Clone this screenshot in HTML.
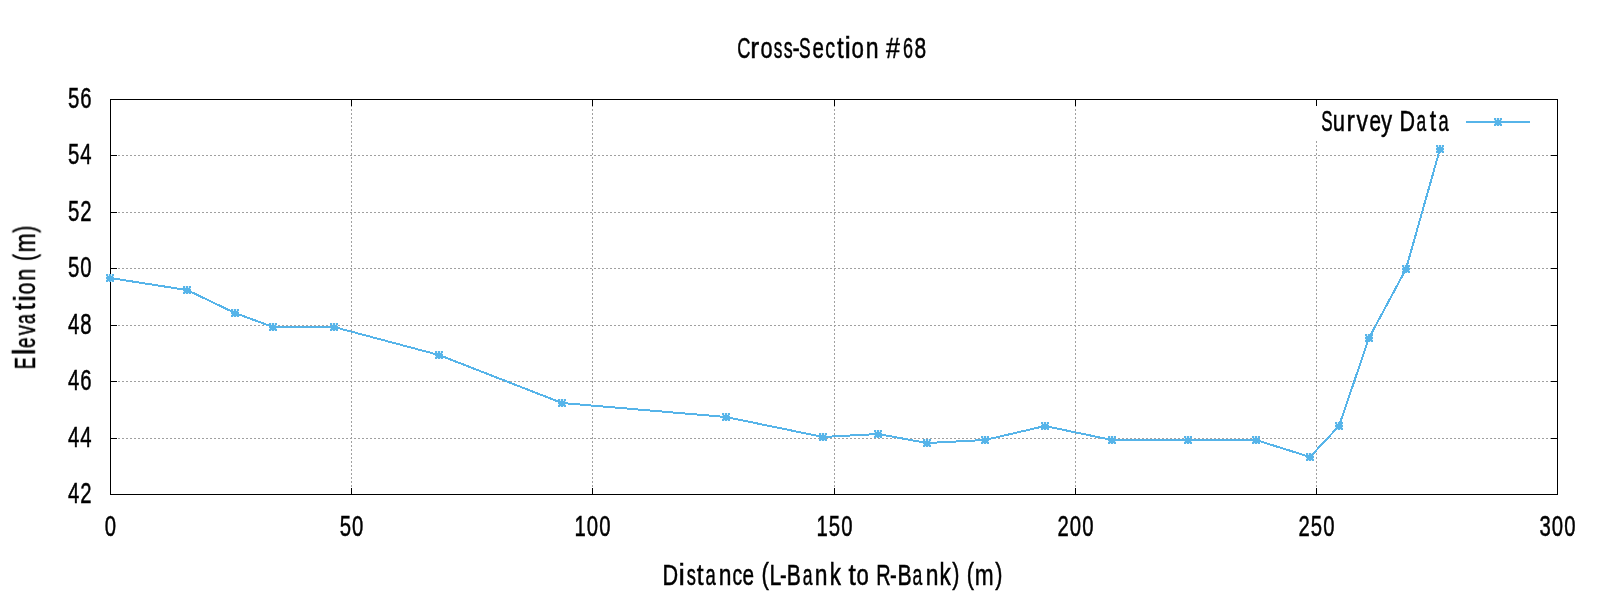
<!DOCTYPE html><html><head><meta charset="utf-8"><style>html,body{margin:0;padding:0;background:#fff;width:1600px;height:600px;overflow:hidden}svg{display:block}.t{will-change:transform}text{font-family:"Liberation Sans",sans-serif;fill:#000;stroke:#000;stroke-width:0.5px;will-change:transform}</style></head><body>
<svg width="1600" height="600" viewBox="0 0 1600 600">
<rect width="1600" height="600" fill="#fff"/>
<path d="M110.0 155.5H1558.0M110.0 212.5H1558.0M110.0 268.5H1558.0M110.0 325.5H1558.0M110.0 381.5H1558.0M110.0 438.5H1558.0" stroke="#a0a0a0" stroke-width="1" stroke-dasharray="2 2" fill="none"/>
<path d="M351.5 495.0V99.0M592.5 495.0V99.0M834.5 495.0V99.0M1075.5 495.0V99.0M1316.5 495.0V99.0" stroke="#a0a0a0" stroke-width="1" stroke-dasharray="2 2" fill="none"/>
<rect x="1305" y="100" width="250" height="41" fill="#fff"/>
<path d="M110.0 155.5h7M1558.0 155.5h-7M110.0 212.5h7M1558.0 212.5h-7M110.0 268.5h7M1558.0 268.5h-7M110.0 325.5h7M1558.0 325.5h-7M110.0 381.5h7M1558.0 381.5h-7M110.0 438.5h7M1558.0 438.5h-7M351.5 99.0v7M351.5 495.0v-7M592.5 99.0v7M592.5 495.0v-7M834.5 99.0v7M834.5 495.0v-7M1075.5 99.0v7M1075.5 495.0v-7M1316.5 99.0v7M1316.5 495.0v-7" stroke="#000" stroke-width="1" fill="none"/>
<rect x="110.5" y="99.5" width="1447.0" height="395.0" stroke="#000" stroke-width="1" fill="none"/>
<path d="M110 278 L187 290 L235 313 L273 327 L334 327 L439 355 L562 403 L726 417 L823 437 L878 434 L927 443 L985 440 L1045 426 L1112 440 L1188 440 L1256 440 L1310 457 L1339 426 L1369 338 L1406 269 L1440 149" stroke="#56b4e9" stroke-width="2" fill="none" stroke-linejoin="miter" shape-rendering="crispEdges"/>
<path d="M106 274h8v8h-8zM183 286h8v8h-8zM231 309h8v8h-8zM269 323h8v8h-8zM330 323h8v8h-8zM435 351h8v8h-8zM558 399h8v8h-8zM722 413h8v8h-8zM819 433h8v8h-8zM874 430h8v8h-8zM923 439h8v8h-8zM981 436h8v8h-8zM1041 422h8v8h-8zM1108 436h8v8h-8zM1184 436h8v8h-8zM1252 436h8v8h-8zM1306 453h8v8h-8zM1335 422h8v8h-8zM1365 334h8v8h-8zM1402 265h8v8h-8zM1436 145h8v8h-8zM1494 118h8v8h-8z" fill="#56b4e9" fill-opacity="0.22"/>
<path d="M106 274h2v2h1v-2h2v2h1v-2h2v2h-1v1h1v2h-1v1h1v2h-2v-1h-1v1h-2v-1h-1v1h-2v-2h1v-1h-1v-2h1v-1h-1zM183 286h2v2h1v-2h2v2h1v-2h2v2h-1v1h1v2h-1v1h1v2h-2v-1h-1v1h-2v-1h-1v1h-2v-2h1v-1h-1v-2h1v-1h-1zM231 309h2v2h1v-2h2v2h1v-2h2v2h-1v1h1v2h-1v1h1v2h-2v-1h-1v1h-2v-1h-1v1h-2v-2h1v-1h-1v-2h1v-1h-1zM269 323h2v2h1v-2h2v2h1v-2h2v2h-1v1h1v2h-1v1h1v2h-2v-1h-1v1h-2v-1h-1v1h-2v-2h1v-1h-1v-2h1v-1h-1zM330 323h2v2h1v-2h2v2h1v-2h2v2h-1v1h1v2h-1v1h1v2h-2v-1h-1v1h-2v-1h-1v1h-2v-2h1v-1h-1v-2h1v-1h-1zM435 351h2v2h1v-2h2v2h1v-2h2v2h-1v1h1v2h-1v1h1v2h-2v-1h-1v1h-2v-1h-1v1h-2v-2h1v-1h-1v-2h1v-1h-1zM558 399h2v2h1v-2h2v2h1v-2h2v2h-1v1h1v2h-1v1h1v2h-2v-1h-1v1h-2v-1h-1v1h-2v-2h1v-1h-1v-2h1v-1h-1zM722 413h2v2h1v-2h2v2h1v-2h2v2h-1v1h1v2h-1v1h1v2h-2v-1h-1v1h-2v-1h-1v1h-2v-2h1v-1h-1v-2h1v-1h-1zM819 433h2v2h1v-2h2v2h1v-2h2v2h-1v1h1v2h-1v1h1v2h-2v-1h-1v1h-2v-1h-1v1h-2v-2h1v-1h-1v-2h1v-1h-1zM874 430h2v2h1v-2h2v2h1v-2h2v2h-1v1h1v2h-1v1h1v2h-2v-1h-1v1h-2v-1h-1v1h-2v-2h1v-1h-1v-2h1v-1h-1zM923 439h2v2h1v-2h2v2h1v-2h2v2h-1v1h1v2h-1v1h1v2h-2v-1h-1v1h-2v-1h-1v1h-2v-2h1v-1h-1v-2h1v-1h-1zM981 436h2v2h1v-2h2v2h1v-2h2v2h-1v1h1v2h-1v1h1v2h-2v-1h-1v1h-2v-1h-1v1h-2v-2h1v-1h-1v-2h1v-1h-1zM1041 422h2v2h1v-2h2v2h1v-2h2v2h-1v1h1v2h-1v1h1v2h-2v-1h-1v1h-2v-1h-1v1h-2v-2h1v-1h-1v-2h1v-1h-1zM1108 436h2v2h1v-2h2v2h1v-2h2v2h-1v1h1v2h-1v1h1v2h-2v-1h-1v1h-2v-1h-1v1h-2v-2h1v-1h-1v-2h1v-1h-1zM1184 436h2v2h1v-2h2v2h1v-2h2v2h-1v1h1v2h-1v1h1v2h-2v-1h-1v1h-2v-1h-1v1h-2v-2h1v-1h-1v-2h1v-1h-1zM1252 436h2v2h1v-2h2v2h1v-2h2v2h-1v1h1v2h-1v1h1v2h-2v-1h-1v1h-2v-1h-1v1h-2v-2h1v-1h-1v-2h1v-1h-1zM1306 453h2v2h1v-2h2v2h1v-2h2v2h-1v1h1v2h-1v1h1v2h-2v-1h-1v1h-2v-1h-1v1h-2v-2h1v-1h-1v-2h1v-1h-1zM1335 422h2v2h1v-2h2v2h1v-2h2v2h-1v1h1v2h-1v1h1v2h-2v-1h-1v1h-2v-1h-1v1h-2v-2h1v-1h-1v-2h1v-1h-1zM1365 334h2v2h1v-2h2v2h1v-2h2v2h-1v1h1v2h-1v1h1v2h-2v-1h-1v1h-2v-1h-1v1h-2v-2h1v-1h-1v-2h1v-1h-1zM1402 265h2v2h1v-2h2v2h1v-2h2v2h-1v1h1v2h-1v1h1v2h-2v-1h-1v1h-2v-1h-1v1h-2v-2h1v-1h-1v-2h1v-1h-1zM1436 145h2v2h1v-2h2v2h1v-2h2v2h-1v1h1v2h-1v1h1v2h-2v-1h-1v1h-2v-1h-1v1h-2v-2h1v-1h-1v-2h1v-1h-1z" fill="#56b4e9"/>
<path d="M1466 122H1530" stroke="#56b4e9" stroke-width="2"/>
<path d="M1494 118h2v2h1v-2h2v2h1v-2h2v2h-1v1h1v2h-1v1h1v2h-2v-1h-1v1h-2v-1h-1v1h-2v-2h1v-1h-1v-2h1v-1h-1z" fill="#56b4e9"/>
<text transform="translate(92.72 107.7) scale(0.7 1)" text-anchor="end" font-size="29" letter-spacing="1.6">56</text>
<text transform="translate(92.72 163.7) scale(0.7 1)" text-anchor="end" font-size="29" letter-spacing="1.6">54</text>
<text transform="translate(92.72 220.7) scale(0.7 1)" text-anchor="end" font-size="29" letter-spacing="1.6">52</text>
<text transform="translate(92.72 276.7) scale(0.7 1)" text-anchor="end" font-size="29" letter-spacing="1.6">50</text>
<text transform="translate(92.72 333.7) scale(0.7 1)" text-anchor="end" font-size="29" letter-spacing="1.6">48</text>
<text transform="translate(92.72 389.7) scale(0.7 1)" text-anchor="end" font-size="29" letter-spacing="1.6">46</text>
<text transform="translate(92.72 446.7) scale(0.7 1)" text-anchor="end" font-size="29" letter-spacing="1.6">44</text>
<text transform="translate(92.72 502.7) scale(0.7 1)" text-anchor="end" font-size="29" letter-spacing="1.6">42</text>
<text transform="translate(111.06 536) scale(0.7 1)" text-anchor="middle" font-size="29" letter-spacing="1.6">0</text>
<text transform="translate(352.06 536) scale(0.7 1)" text-anchor="middle" font-size="29" letter-spacing="1.6">50</text>
<text transform="translate(593.06 536) scale(0.7 1)" text-anchor="middle" font-size="29" letter-spacing="1.6">100</text>
<text transform="translate(835.06 536) scale(0.7 1)" text-anchor="middle" font-size="29" letter-spacing="1.6">150</text>
<text transform="translate(1076.06 536) scale(0.7 1)" text-anchor="middle" font-size="29" letter-spacing="1.6">200</text>
<text transform="translate(1317.06 536) scale(0.7 1)" text-anchor="middle" font-size="29" letter-spacing="1.6">250</text>
<text transform="translate(1558.06 536) scale(0.7 1)" text-anchor="middle" font-size="29" letter-spacing="1.6">300</text>
<text transform="translate(744.05 58) scale(0.635 1)" x="-10.58" font-size="28.8">C</text>
<text transform="translate(755.50 58) scale(0.935 1)" x="-5.51" font-size="28.8">r</text>
<text transform="translate(766.60 58) scale(0.752 1)" x="-8.01" font-size="28.8">o</text>
<text transform="translate(778.00 58) scale(0.597 1)" x="-7.08" font-size="28.8">s</text>
<text transform="translate(788.15 58) scale(0.620 1)" x="-7.08" font-size="28.8">s</text>
<text transform="translate(796.25 58) scale(0.757 1)" x="-4.80" font-size="28.8">-</text>
<text transform="translate(804.85 58) scale(0.603 1)" x="-9.60" font-size="28.8">S</text>
<text transform="translate(818.10 58) scale(0.714 1)" x="-7.98" font-size="28.8">e</text>
<text transform="translate(830.40 58) scale(0.681 1)" x="-7.43" font-size="28.8">c</text>
<text transform="translate(840.40 58) scale(0.840 1)" x="-4.11" font-size="28.8">t</text>
<text transform="translate(847.65 58) scale(1.000 1)" x="-3.19" font-size="28.8">i</text>
<text transform="translate(857.65 58) scale(0.773 1)" x="-8.01" font-size="28.8">o</text>
<text transform="translate(872.10 58) scale(0.801 1)" x="-8.03" font-size="28.8">n</text>
<text transform="translate(893.05 58) scale(0.868 1)" x="-8.00" font-size="28.8">#</text>
<text transform="translate(908.00 58) scale(0.624 1)" x="-8.11" font-size="28.8">6</text>
<text transform="translate(920.30 58) scale(0.728 1)" x="-8.01" font-size="28.8">8</text>
<text transform="translate(670.70 585) scale(0.752 1)" x="-10.89" font-size="28.8">D</text>
<text transform="translate(681.60 585) scale(1.000 1)" x="-3.19" font-size="28.8">i</text>
<text transform="translate(691.15 585) scale(0.636 1)" x="-7.08" font-size="28.8">s</text>
<text transform="translate(700.15 585) scale(0.853 1)" x="-4.11" font-size="28.8">t</text>
<text transform="translate(711.00 585) scale(0.641 1)" x="-8.62" font-size="28.8">a</text>
<text transform="translate(725.05 585) scale(0.793 1)" x="-8.03" font-size="28.8">n</text>
<text transform="translate(737.45 585) scale(0.674 1)" x="-7.43" font-size="28.8">c</text>
<text transform="translate(748.35 585) scale(0.721 1)" x="-7.98" font-size="28.8">e</text>
<text transform="translate(765.95 584.1) scale(0.774 1.02)" x="-5.60" font-size="28.8">(</text>
<text transform="translate(775.90 585) scale(0.743 1)" x="-8.71" font-size="28.8">L</text>
<text transform="translate(783.40 585) scale(0.690 1)" x="-4.80" font-size="28.8">-</text>
<text transform="translate(794.10 585) scale(0.733 1)" x="-10.03" font-size="28.8">B</text>
<text transform="translate(807.95 585) scale(0.608 1)" x="-8.62" font-size="28.8">a</text>
<text transform="translate(821.05 585) scale(0.793 1)" x="-8.03" font-size="28.8">n</text>
<text transform="translate(836.05 585) scale(0.777 1.08)" x="-8.19" font-size="28.8">k</text>
<text transform="translate(852.20 585) scale(0.917 1)" x="-4.11" font-size="28.8">t</text>
<text transform="translate(862.70 585) scale(0.766 1)" x="-8.01" font-size="28.8">o</text>
<text transform="translate(883.90 585) scale(0.693 1)" x="-10.91" font-size="28.8">R</text>
<text transform="translate(893.45 585) scale(0.704 1)" x="-4.80" font-size="28.8">-</text>
<text transform="translate(904.85 585) scale(0.739 1)" x="-10.03" font-size="28.8">B</text>
<text transform="translate(917.85 585) scale(0.608 1)" x="-8.62" font-size="28.8">a</text>
<text transform="translate(932.05 585) scale(0.793 1)" x="-8.03" font-size="28.8">n</text>
<text transform="translate(945.90 585) scale(0.785 1.08)" x="-8.19" font-size="28.8">k</text>
<text transform="translate(955.25 584.1) scale(0.750 1.02)" x="-3.99" font-size="28.8">)</text>
<text transform="translate(971.05 584.1) scale(0.750 1.02)" x="-5.60" font-size="28.8">(</text>
<text transform="translate(984.25 585) scale(0.788 1)" x="-12.00" font-size="28.8">m</text>
<text transform="translate(998.25 584.1) scale(0.750 1.02)" x="-3.99" font-size="28.8">)</text>
<text transform="translate(1326.85 131) scale(0.591 1)" x="-9.60" font-size="28.8">S</text>
<text transform="translate(1338.85 131) scale(0.762 1)" x="-7.99" font-size="28.8">u</text>
<text transform="translate(1351.35 131) scale(0.870 1)" x="-5.51" font-size="28.8">r</text>
<text transform="translate(1362.30 131) scale(0.803 1)" x="-7.20" font-size="28.8">v</text>
<text transform="translate(1375.35 131) scale(0.721 1)" x="-7.98" font-size="28.8">e</text>
<text transform="translate(1386.60 131) scale(0.772 1)" x="-7.21" font-size="28.8">y</text>
<text transform="translate(1407.65 131) scale(0.746 1)" x="-10.89" font-size="28.8">D</text>
<text transform="translate(1421.80 131) scale(0.602 1)" x="-8.62" font-size="28.8">a</text>
<text transform="translate(1432.95 131) scale(0.802 1)" x="-4.11" font-size="28.8">t</text>
<text transform="translate(1443.95 131) scale(0.634 1)" x="-8.62" font-size="28.8">a</text>
<text transform="translate(35 362.80) rotate(-90) scale(0.621 1)" x="-10.17" font-size="28.8">E</text>
<text transform="translate(35 351.80) rotate(-90) scale(1.000 1.08)" x="-3.21" font-size="28.8">l</text>
<text transform="translate(35 342.85) rotate(-90) scale(0.649 1)" x="-7.98" font-size="28.8">e</text>
<text transform="translate(35 330.10) rotate(-90) scale(0.707 1)" x="-7.20" font-size="28.8">v</text>
<text transform="translate(35 318.52) rotate(-90) scale(0.624 1)" x="-8.62" font-size="28.8">a</text>
<text transform="translate(35 306.65) rotate(-90) scale(0.853 1)" x="-4.11" font-size="28.8">t</text>
<text transform="translate(35 298.35) rotate(-90) scale(1.000 1)" x="-3.19" font-size="28.8">i</text>
<text transform="translate(35 288.52) rotate(-90) scale(0.741 1)" x="-8.01" font-size="28.8">o</text>
<text transform="translate(35 274.80) rotate(-90) scale(0.754 1)" x="-8.03" font-size="28.8">n</text>
<text transform="translate(34.1 256.90) rotate(-90) scale(0.737 1.02)" x="-5.60" font-size="28.8">(</text>
<text transform="translate(35 242.85) rotate(-90) scale(0.798 1)" x="-12.00" font-size="28.8">m</text>
<text transform="translate(34.1 229.80) rotate(-90) scale(0.737 1.02)" x="-3.99" font-size="28.8">)</text>
</svg></body></html>
